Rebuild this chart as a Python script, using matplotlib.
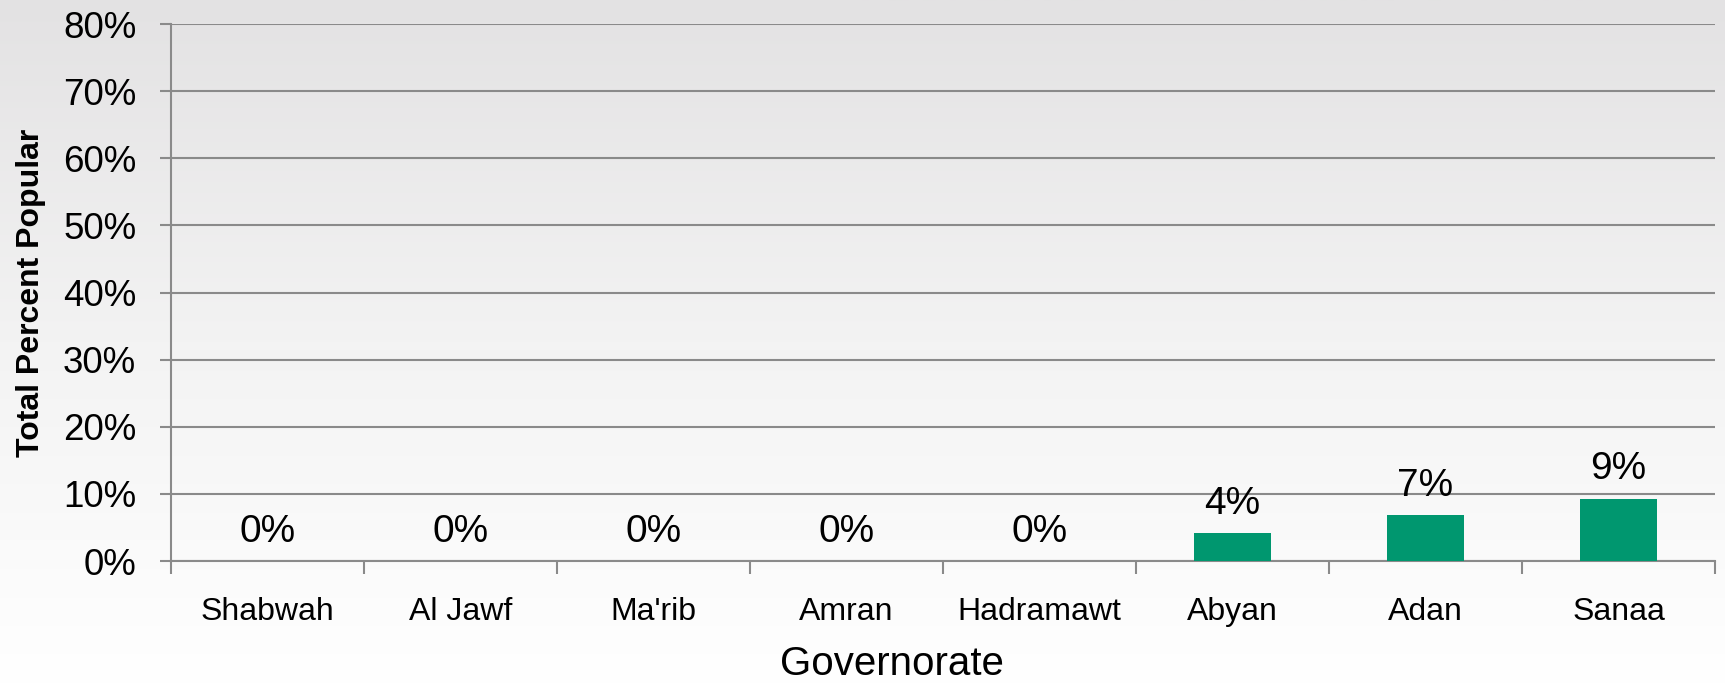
import numpy as np
import matplotlib
matplotlib.use("Agg")
import matplotlib.pyplot as plt
from matplotlib.colors import LinearSegmentedColormap

governorates = ["Shabwah", "Al Jawf", "Ma'rib", "Amran", "Hadramawt", "Abyan", "Adan", "Sanaa"]
percent_popular = [0.0, 0.0, 0.0, 0.0, 0.0, 4.1, 6.9, 9.3]
y_ticks = [0, 10, 20, 30, 40, 50, 60, 70, 80]

plt.rcParams['font.family'] = ['Liberation Sans', 'DejaVu Sans']

fig = plt.figure(figsize=(17.25, 6.84), dpi=100)

# light grey to white background, like the slide
bg = fig.add_axes([0, 0, 1, 1], zorder=-10)
cmap = LinearSegmentedColormap.from_list("bg", ["#e3e2e3", "#f3f3f3", "#ffffff"])
bg.imshow(np.linspace(0, 1, 256).reshape(-1, 1), aspect='auto', cmap=cmap,
          extent=[0, 1, 0, 1])
bg.axis('off')

ax = fig.add_axes([0.0991, 0.1798, 0.8951, 0.7851])
ax.patch.set_alpha(0)

x = np.arange(len(governorates))
bars = ax.bar(x, percent_popular, width=0.4, color='#00976f', zorder=3)

for xi, v in zip(x, percent_popular):
    ax.annotate(f"{round(v):.0f}%", (xi, v), xytext=(0, 21), textcoords='offset points',
                ha='center', va='center', fontsize=28, zorder=4)

ax.set_xlim(-0.5, len(governorates) - 0.5)
ax.set_ylim(0, 80)
ax.set_yticks(y_ticks)
ax.set_yticklabels([f"{t}%" for t in y_ticks], fontsize=26.5)
ax.yaxis.grid(True, color='#8a8a8a', linewidth=1.5, zorder=1)
ax.set_axisbelow(True)

ax.set_xticks(x)
ax.set_xticklabels(governorates, fontsize=23)
ax.set_xticks(np.arange(-0.5, len(governorates)), minor=True)
ax.tick_params(axis='x', which='major', length=0, pad=26)
ax.tick_params(axis='x', which='minor', length=9, width=1.5, color='#8a8a8a', direction='out')
ax.tick_params(axis='y', length=8, width=1.5, color='#8a8a8a', pad=17)

for s in ['top', 'right']:
    ax.spines[s].set_visible(False)
for s in ['left', 'bottom']:
    ax.spines[s].set_color('#8a8a8a')
    ax.spines[s].set_linewidth(1.5)

ax.set_xlabel("Governorate", fontsize=29, labelpad=13, x=0.467)
ax.set_ylabel("Total Percent Popular", fontsize=23, fontweight='bold', labelpad=12)

fig.savefig("out.png", dpi=100)
